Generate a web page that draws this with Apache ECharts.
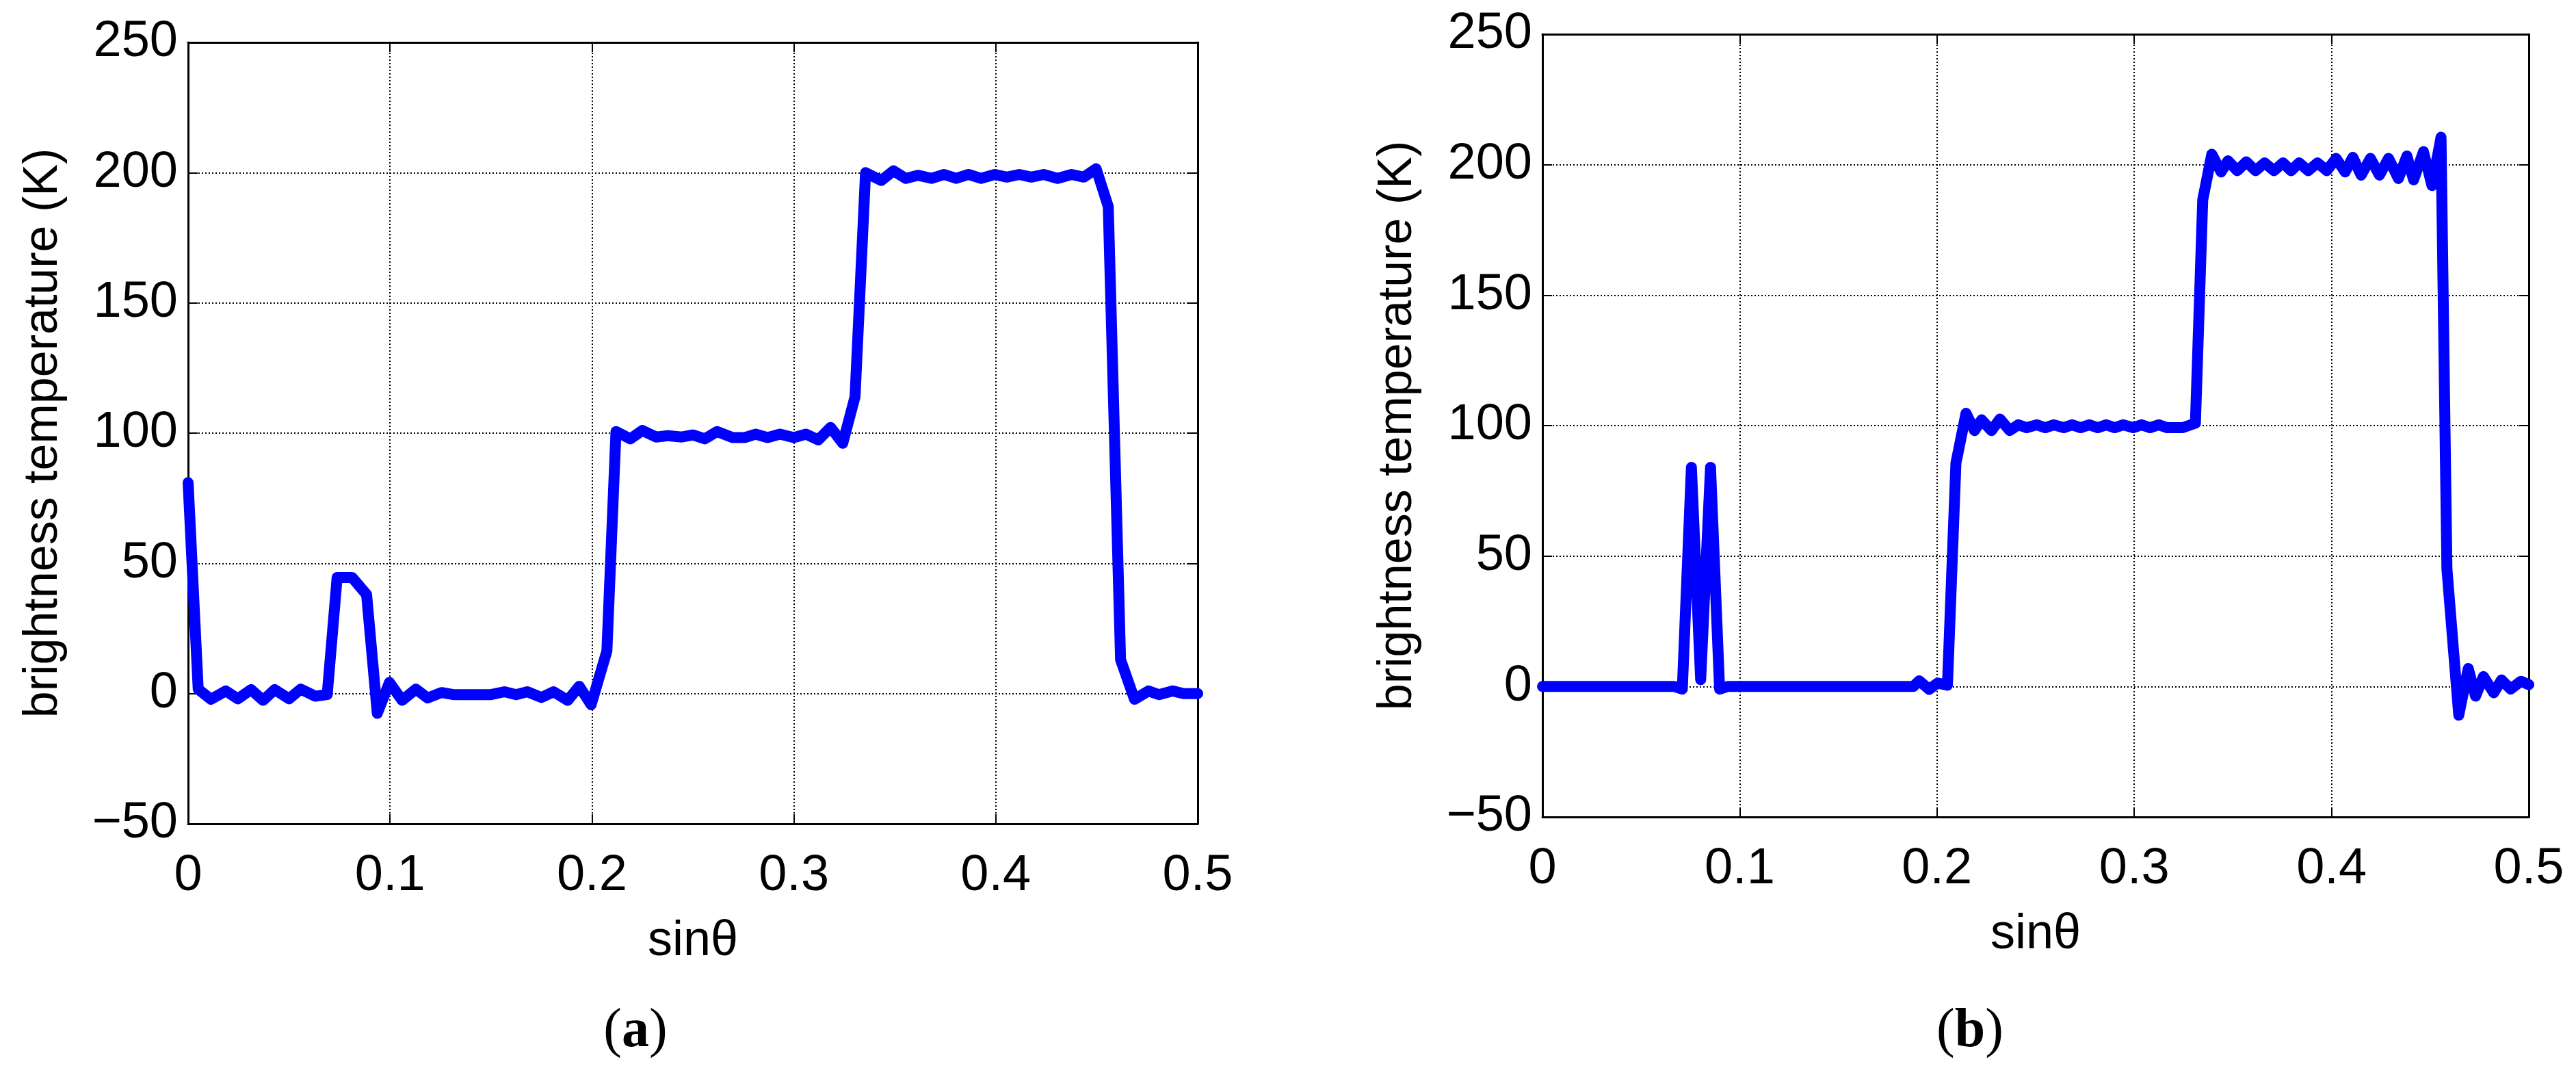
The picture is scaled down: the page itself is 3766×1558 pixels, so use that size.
<!DOCTYPE html>
<html>
<head>
<meta charset="utf-8">
<script src="https://cdn.jsdelivr.net/npm/echarts@6/dist/echarts.min.js"></script>
<style>
  html, body { margin: 0; padding: 0; background: #fff; }
  #chart { width: 3766px; height: 1558px; }
</style>
</head>
<body>
<div id="chart"></div>
<script>
// panel (a): sinθ / brightness temperature (K)
const sinA = [0, 0.005, 0.0113, 0.0187, 0.0246, 0.0312, 0.0371, 0.0429, 0.05, 0.0558,
  0.063, 0.0689, 0.0738, 0.0812, 0.0884, 0.0937, 0.0997, 0.106, 0.1128, 0.1186,
  0.1255, 0.1313, 0.138, 0.144, 0.15, 0.1567, 0.1625, 0.168, 0.175, 0.181,
  0.188, 0.1937, 0.1996, 0.2074, 0.2119, 0.219, 0.225, 0.2318, 0.2377, 0.2445,
  0.25, 0.2559, 0.262, 0.2697, 0.2758, 0.281, 0.287, 0.2931, 0.3, 0.306,
  0.3121, 0.3182, 0.3242, 0.3303, 0.3355, 0.3433, 0.3493, 0.3554, 0.3614, 0.3683,
  0.3744, 0.3804, 0.3865, 0.3926, 0.3995, 0.4055, 0.4116, 0.4176, 0.4237, 0.4306,
  0.4375, 0.4436, 0.4497, 0.4557, 0.4618, 0.4687, 0.4756, 0.4808, 0.4877, 0.493, 0.5];
const tbA = [81, 1.7, -2.2, 1, -2, 1.5, -2.6, 1.5, -2, 1.7,
  -1, -0.4, 44.6, 44.6, 38, -7.6, 4.3, -2.6, 1.7, -1.7,
  0.4, -0.4, -0.4, -0.4, -0.4, 0.7, -0.4, 0.7, -1.5, 0.7,
  -2.6, 2.8, -4.3, 16.3, 100.6, 97.8, 101, 98.5, 99, 98.5,
  99.3, 97.8, 100.6, 98.3, 98.3, 99.6, 98.3, 99.6, 98.3, 99.6,
  97.4, 102.2, 96.1, 114, 200, 197, 200.7, 197.8, 199, 197.8,
  199.3, 197.8, 199.3, 197.8, 199.3, 198.3, 199.3, 198.3, 199.3, 197.8,
  199.3, 198.3, 201.5, 187, 13, -2.2, 1, -0.4, 1, 0, 0];

// panel (b)
const sinB = [0, 0.0669, 0.0709, 0.0755, 0.0802, 0.0852, 0.0898, 0.0938, 0.188, 0.191,
  0.196, 0.2003, 0.2053, 0.2096, 0.2147, 0.219, 0.2226, 0.2276, 0.2319, 0.2369,
  0.2412, 0.2455, 0.2506, 0.2549, 0.2592, 0.2642, 0.2685, 0.2728, 0.2772, 0.2815,
  0.2858, 0.2901, 0.2944, 0.2994, 0.3037, 0.308, 0.3124, 0.3167, 0.3246, 0.331,
  0.3347, 0.3393, 0.344, 0.3475, 0.3522, 0.3568, 0.3615, 0.3661, 0.3708, 0.3754,
  0.3795, 0.3836, 0.3882, 0.3929, 0.3976, 0.4023, 0.4069, 0.4108, 0.415, 0.4197,
  0.4243, 0.4289, 0.4339, 0.4382, 0.4416, 0.4466, 0.4509, 0.4555, 0.4585, 0.4645,
  0.4693, 0.473, 0.477, 0.4822, 0.4862, 0.4908, 0.496, 0.5];
const tbB = [0, 0, -1, 84, 2.6, 84, -1, 0, 0, 2.2,
  -1.1, 1.3, 0.5, 85.6, 104.7, 98.1, 102.2, 98.1, 102.5, 98.1,
  100.3, 99.2, 100.3, 99.2, 100.3, 99.2, 100.3, 99.2, 100.3, 99.2,
  100.3, 99.2, 100.3, 99.2, 100.3, 99.2, 100.3, 99.2, 99.2, 100.9,
  186.5, 204, 197.2, 201.5, 197.7, 201.1, 197.7, 200.7, 197.7, 200.7,
  197.7, 200.7, 197.7, 200.7, 197.7, 202.4, 197.2, 202.8, 196, 202.4,
  196, 202.4, 194.7, 203.3, 194.2, 205, 192, 210.5, 45, -11,
  6.9, -3.7, 3.8, -2.4, 2.5, -1, 2, 0.7];

const xTicks = [0, 0.1, 0.2, 0.3, 0.4, 0.5];
const yTicks = [-50, 0, 50, 100, 150, 200, 250];
const panelLetters = ['a', 'b'];
const xName = 'sinθ';
const yName = 'brightness temperature (K)';

const sans = '"Liberation Sans", Arial, sans-serif';
const serif = '"Liberation Serif", "Times New Roman", serif';

const grids = [
  { left: 275, top: 62, width: 1476, height: 1142 },
  { left: 2255, top: 50, width: 1442, height: 1144 },
];
const captionX = [929, 2880];
const panels = [[sinA, tbA], [sinB, tbB]];

const gridLine = { show: true, lineStyle: { color: '#000', width: 2, type: [2, 3] } };
const tick = { show: true, inside: true, length: 14, lineStyle: { color: '#000', width: 2 } };
const edge = { show: true, onZero: false, lineStyle: { color: '#000', width: 3 } };

const xAxis = [];
const yAxis = [];
grids.forEach((g, i) => {
  [false, true].forEach((mirror) => {
    xAxis.push({
      type: 'value',
      gridIndex: i,
      position: mirror ? 'top' : 'bottom',
      min: xTicks[0],
      max: xTicks[xTicks.length - 1],
      interval: xTicks[1] - xTicks[0],
      name: mirror ? '' : xName,
      nameLocation: 'middle',
      nameGap: 136,
      nameTextStyle: { fontFamily: sans, fontSize: 72, color: '#000' },
      axisLine: edge,
      axisTick: tick,
      axisLabel: { show: !mirror, margin: 40, fontFamily: sans, fontSize: 74, color: '#000' },
      splitLine: mirror ? { show: false } : gridLine,
    });
    yAxis.push({
      type: 'value',
      gridIndex: i,
      position: mirror ? 'right' : 'left',
      min: yTicks[0],
      max: yTicks[yTicks.length - 1],
      interval: yTicks[1] - yTicks[0],
      name: mirror ? '' : yName,
      nameLocation: 'middle',
      nameGap: 176,
      nameTextStyle: { fontFamily: sans, fontSize: 70, color: '#000' },
      axisLine: edge,
      axisTick: tick,
      axisLabel: {
        show: !mirror, margin: 15, fontFamily: sans, fontSize: 74, color: '#000',
        formatter: (v) => String(v).replace('-', '\u2212'),
      },
      splitLine: mirror ? { show: false } : gridLine,
    });
  });
});

const series = panels.map(([xs, ys], i) => ({
  type: 'line',
  xAxisIndex: i * 2,
  yAxisIndex: i * 2,
  data: xs.map((x, k) => [x, ys[k]]),
  showSymbol: false,
  symbol: 'none',
  clip: false,
  z: 5,
  lineStyle: { color: '#0000ff', width: 16, join: 'round', cap: 'round' },
}));

const graphic = panelLetters.map((p, i) => ({
  type: 'text',
  x: captionX[i],
  y: 1508,
  style: {
    text: '{n|(}{b|' + p + '}{n|)}',
    align: 'center',
    verticalAlign: 'middle',
    rich: {
      n: { fontFamily: serif, fontSize: 80, fill: '#000' },
      b: { fontFamily: serif, fontSize: 80, fontWeight: 'bold', fill: '#000' },
    },
  },
}));

const chart = echarts.init(document.getElementById('chart'));
chart.setOption({
  animation: false,
  backgroundColor: '#fff',
  grid: grids.map((g) => Object.assign({ show: false, containLabel: false }, g)),
  xAxis,
  yAxis,
  series,
  graphic,
});
</script>
</body>
</html>
